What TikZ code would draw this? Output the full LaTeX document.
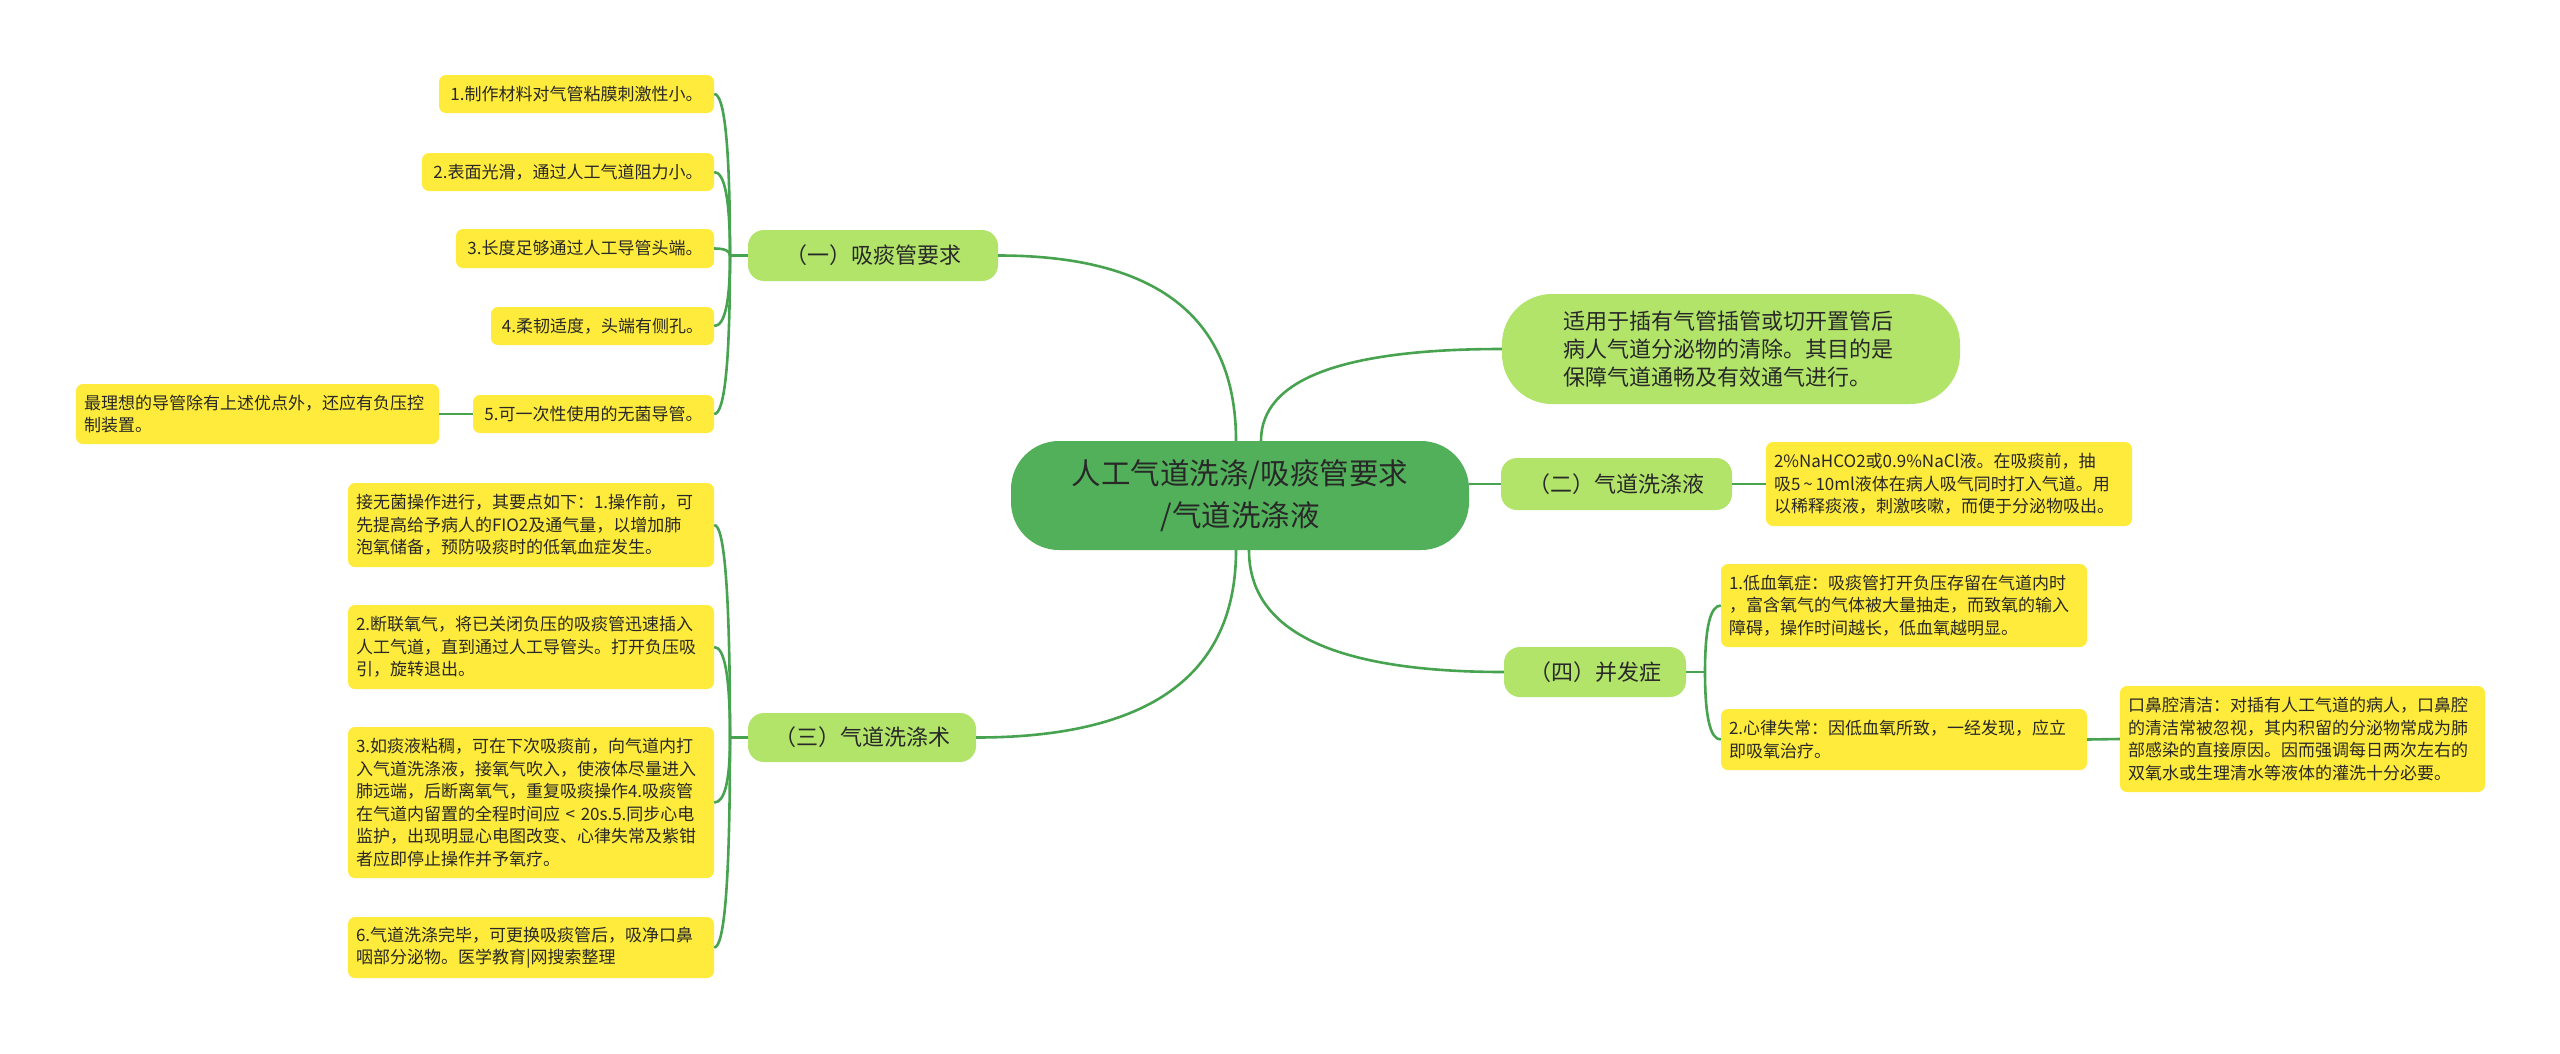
\documentclass[tikz,border=0pt]{standalone}
\usepackage{fontspec}
\usetikzlibrary{calc}
\setmainfont{Noto Sans CJK SC}
\definecolor{lineg}{RGB}{72,163,80}
\definecolor{leafy}{RGB}{255,235,59}
\definecolor{branchg}{RGB}{178,228,106}
\definecolor{centg}{RGB}{82,176,90}
\definecolor{txt}{RGB}{40,40,40}
\newcommand{\qcurve}[3]{\draw[conn] (#1) .. controls ($(#1)!2/3!(#3)$) and ($(#2)!2/3!(#3)$) .. (#2);}
\begin{document}
\begin{tikzpicture}[x=1pt,y=-1pt,
  conn/.style={draw=lineg,line width=2.6pt},
  leaf/.style={fill=leafy,rounded corners=7pt,inner xsep=8pt,inner ysep=0pt,text=txt,font=\fontsize{17}{22.5}\selectfont,align=left},
  branch/.style={fill=branchg,rounded corners=16pt,inner sep=0pt,text=txt,font=\fontsize{22}{28}\selectfont,align=center}
]
\fill[white] (0,0) rectangle (2560,1053);
\useasboundingbox (0,0) rectangle (2560,1053);

% central
\node[branch,fill=centg,rounded corners=48pt,minimum width=458pt,minimum height=109pt,font=\fontsize{29.5}{42}\selectfont] (C) at (1240,495.5) {人工气道洗涤/吸痰管要求\\/气道洗涤液};

% branches
\node[branch,minimum width=250pt,minimum height=51pt] (B1) at (873,255.5) {（一）吸痰管要求};
\node[branch,minimum width=228pt,minimum height=49pt] (B3) at (862,737.5) {（三）气道洗涤术};
\node[branch,minimum width=231pt,minimum height=52pt] (B2) at (1616.5,484) {（二）气道洗涤液};
\node[branch,minimum width=182pt,minimum height=50pt] (B4) at (1595,672) {（四）并发症};
\node[branch,rounded corners=50pt,minimum width=458pt,minimum height=110pt,text width=335pt,align=left] (TR) at (1731,349) {适用于插有气管插管或切开置管后\\病人气道分泌物的清除。其目的是\\保障气道通畅及有效通气进行。};

% (一) leaves
\node[leaf,minimum width=275pt,minimum height=38pt] (L1) at (576.5,94) {1.制作材料对气管粘膜刺激性小。};
\node[leaf,minimum width=292pt,minimum height=38pt] (L2) at (568,172) {2.表面光滑，通过人工气道阻力小。};
\node[leaf,minimum width=258pt,minimum height=39pt] (L3) at (585,248.5) {3.长度足够通过人工导管头端。};
\node[leaf,minimum width=223pt,minimum height=38pt] (L4) at (602.5,326) {4.柔韧适度，头端有侧孔。};
\node[leaf,minimum width=241pt,minimum height=38pt] (L5) at (593.5,414) {5.可一次性使用的无菌导管。};
\node[leaf,text width=347pt,minimum height=60pt] (L5c) at (257.5,414) {最理想的导管除有上述优点外，还应有负压控\\制装置。};

% (三) leaves
\node[leaf,text width=350pt,minimum height=84pt] (Ta) at (531,525) {接无菌操作进行，其要点如下：1.操作前，可\\先提高给予病人的FIO2及通气量，以增加肺\\泡氧储备，预防吸痰时的低氧血症发生。};
\node[leaf,text width=350pt,minimum height=84pt] (Tb) at (531,647) {2.断联氧气，将已关闭负压的吸痰管迅速插入\\人工气道，直到通过人工导管头。打开负压吸\\引，旋转退出。};
\node[leaf,text width=350pt,minimum height=151pt] (Tc) at (531,802.5) {3.如痰液粘稠，可在下次吸痰前，向气道内打\\入气道洗涤液，接氧气吹入，使液体尽量进入\\肺远端，后断离氧气，重复吸痰操作4.吸痰管\\在气道内留置的全程时间应 < 20s.5.同步心电\\监护，出现明显心电图改变、心律失常及紫钳\\者应即停止操作并予氧疗。};
\node[leaf,text width=350pt,minimum height=61pt] (Td) at (531,947.5) {6.气道洗涤完毕，可更换吸痰管后，吸净口鼻\\咽部分泌物。医学教育\textbar 网搜索整理};

% right leaves
\node[leaf,text width=350pt,minimum height=84pt] (R2) at (1949,484) {2\%NaHCO2或0.9\%NaCl液。在吸痰前，抽\\吸5\,\textasciitilde\,10ml液体在病人吸气同时打入气道。用\\以稀释痰液，刺激咳嗽，而便于分泌物吸出。};
\node[leaf,text width=350pt,minimum height=83pt] (R4a) at (1904,605.5) {1.低血氧症：吸痰管打开负压存留在气道内时\\，富含氧气的气体被大量抽走，而致氧的输入\\障碍，操作时间越长，低血氧越明显。};
\node[leaf,text width=350pt,minimum height=61pt] (R4b) at (1904,739.5) {2.心律失常：因低血氧所致，一经发现，应立\\即吸氧治疗。};
\node[leaf,text width=349pt,minimum height=106pt] (R4c) at (2302.5,739) {口鼻腔清洁：对插有人工气道的病人，口鼻腔\\的清洁常被忽视，其内积留的分泌物常成为肺\\部感染的直接原因。因而强调每日两次左右的\\双氧水或生理清水等液体的灌洗十分必要。};

% connectors
\coordinate (c1) at ([xshift=-4pt]C.north);
\coordinate (c2) at ([xshift=21pt]C.north);
\coordinate (c3) at ([xshift=-4pt]C.south);
\coordinate (c4) at ([xshift=9pt]C.south);
\coordinate (k1) at (c1 |- B1.east);
\coordinate (k2) at (c2 |- TR.west);
\coordinate (k3) at (c3 |- B3.east);
\coordinate (k4) at (c4 |- B4.west);
\qcurve{c1}{B1.east}{k1}
\qcurve{c2}{TR.west}{k2}
\qcurve{c3}{B3.east}{k3}
\qcurve{c4}{B4.west}{k4}
\draw[conn] (C.east |- B2.west) -- (B2.west);
\draw[conn] (B2.east) -- (R2.west);

\coordinate (T1) at (730,255.5);
\coordinate (T3) at (730,737.5);
\coordinate (T4) at (1705,672);
\draw[conn] (B1.west) -- (T1);
\draw[conn] (B3.west) -- (T3);
\draw[conn] (B4.east) -- (T4);
\foreach \n in {L1,L2,L3,L4,L5}{\coordinate (kk) at (T1 |- \n.east); \qcurve{T1}{\n.east}{kk}}
\foreach \n in {Ta,Tb,Tc,Td}{\coordinate (kk) at (T3 |- \n.east); \qcurve{T3}{\n.east}{kk}}
\foreach \n in {R4a,R4b}{\coordinate (kk) at (T4 |- \n.west); \qcurve{T4}{\n.west}{kk}}
\draw[conn] (L5.west) -- (L5c.east);
\draw[conn] (R4b.east) -- (R4c.west);
\end{tikzpicture}
\end{document}
